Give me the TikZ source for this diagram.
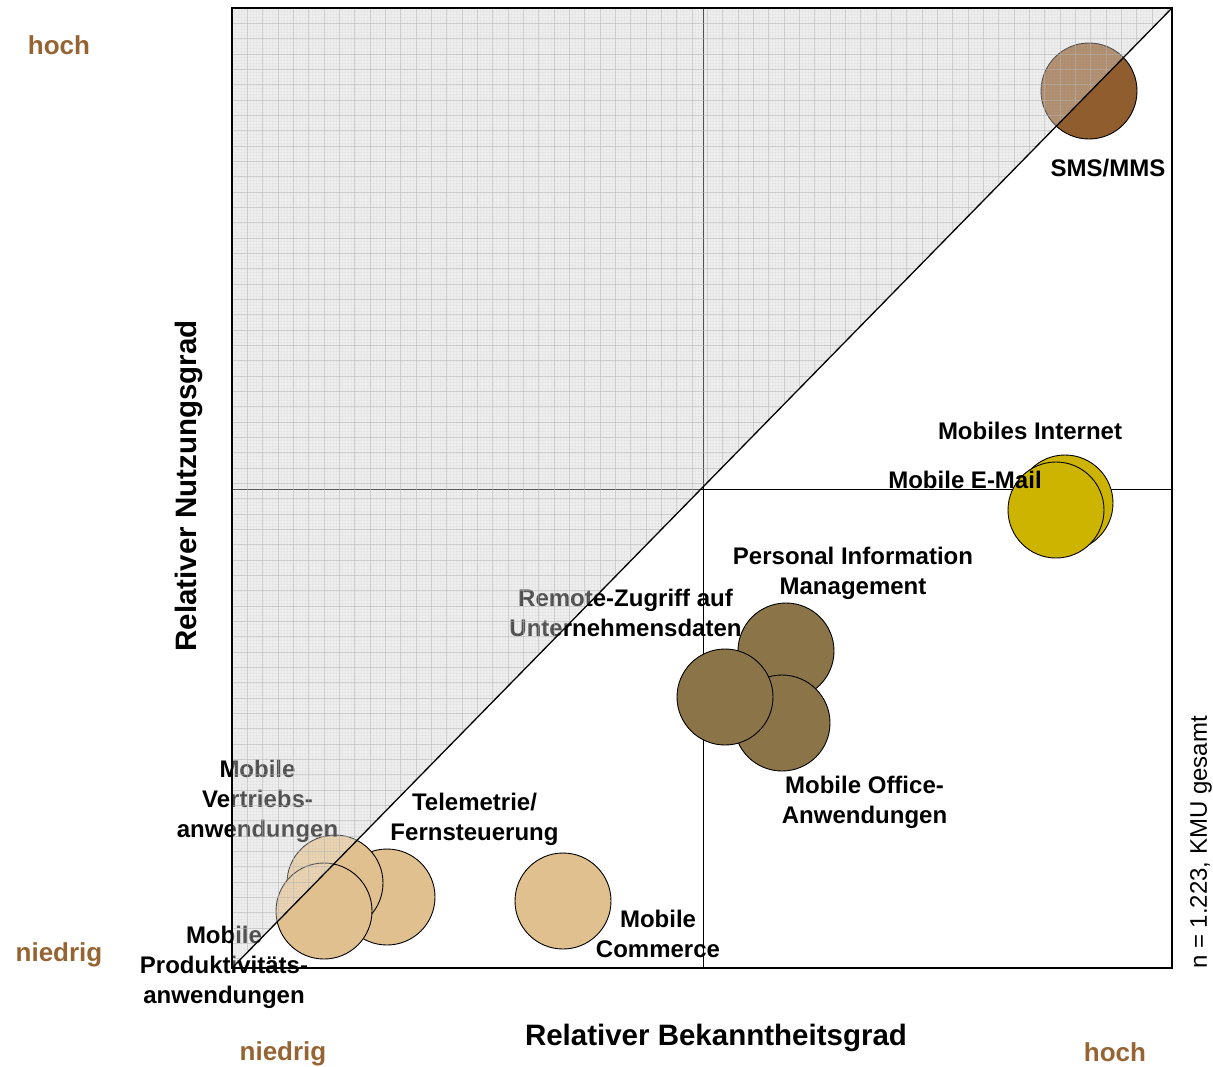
\documentclass[tikz,border=0pt]{standalone}
\usepackage{fontspec}
\setmainfont{Liberation Sans}
\definecolor{smsbrown}{RGB}{143,93,46}
\definecolor{yel}{RGB}{205,180,0}
\definecolor{olive}{RGB}{139,117,72}
\definecolor{tan}{RGB}{224,192,142}
\definecolor{axisbrown}{RGB}{150,100,50}
\definecolor{trifill}{RGB}{232,232,232}
\definecolor{gridc}{RGB}{180,180,180}
\begin{document}
\begin{tikzpicture}[x=1pt,y=-1pt,
  bub/.style={circle, draw=black, line width=0.9pt, minimum size=96pt, inner sep=0pt},
  lab/.style={font=\fontsize{24}{30}\selectfont\bfseries, align=center, inner sep=0pt},
  axtitle/.style={font=\fontsize{29.5}{34}\selectfont\bfseries, inner sep=0pt},
  axend/.style={font=\fontsize{26}{30}\selectfont\bfseries, text=axisbrown, inner sep=0pt},
  frameline/.style={line width=1.3pt, black},
  midline/.style={line width=0.9pt, black}]
\useasboundingbox (0,0) rectangle (1213,1066);
% corner coordinates
\coordinate (TL) at (232,8);
\coordinate (TR) at (1172,8);
\coordinate (BL) at (232,968);
\coordinate (BR) at (1172,968);
\coordinate (MT) at (703,8);
\coordinate (MB) at (703,968);
\coordinate (ML) at (232,489);
\coordinate (MR) at (1172,489);
% gray triangle background
\fill[trifill] (BL) -- (TL) -- (TR) -- cycle;
% midlines
\draw[midline] (MT) -- (MB);
\draw[midline] (ML) -- (MR);
% bubbles
\node[bub, fill=smsbrown] (sms) at (1089,91) {};
\node[bub, fill=yel] (inet) at (1065,503) {};
\node[bub, fill=yel] (email) at (1056,510) {};
\node[bub, fill=olive] (pim) at (786,651) {};
\node[bub, fill=olive] (office) at (782,723) {};
\node[bub, fill=olive] (remote) at (725,697) {};
\node[bub, fill=tan] (tele) at (387,897) {};
\node[bub, fill=tan] (vertrieb) at (335,883) {};
\node[bub, fill=tan] (prod) at (324,911) {};
\node[bub, fill=tan] (commerce) at (563,901) {};
% labels
\node[lab] (lsms) at (1108,168) {SMS/MMS};
\node[lab] (linet) at (1030,431) {Mobiles Internet};
\node[lab] (lemail) at (965,480) {Mobile E-Mail};
\node[lab] (lpim) at (853,573) {Personal Information\\Management};
\node[lab] (lremote) at (625.5,613) {Remote-Zugriff auf\\Unternehmensdaten};
\node[lab] (loffice) at (864.5,802) {Mobile Office-\\Anwendungen};
\node[lab] (lvertrieb) at (257.5,801) {Mobile\\Vertriebs-\\anwendungen};
\node[lab] (ltele) at (474.5,819) {Telemetrie/\\Fernsteuerung};
\node[lab] (lcommerce) at (658,934) {Mobile\\Commerce};
\node[lab] (lprod) at (224,967) {Mobile\\Produktivitäts-\\anwendungen};
% translucent grid overlay on the triangle
\begin{scope}
  \clip (BL) -- (TL) -- (TR) -- cycle;
  \fill[white, opacity=0.3] (BL) -- (TL) -- (TR) -- cycle;
  \foreach \i in {1,...,300} {
    \draw[gridc, line width=0.3pt, opacity=0.1] ({232+\i*3.0667},8) -- ({232+\i*3.0667},968);
    \draw[gridc, line width=0.3pt, opacity=0.1] (232,{8+\i*3.0667}) -- (1172,{8+\i*3.0667});
  }
  \foreach \i in {1,...,62} {
    \draw[gridc, line width=0.7pt, opacity=0.5] ({232+\i*15.333},8) -- ({232+\i*15.333},968);
    \draw[gridc, line width=0.7pt, opacity=0.5] (232,{8+\i*15.333}) -- (1172,{8+\i*15.333});
  }
\end{scope}
% frame and diagonal
\draw[frameline] (TL) rectangle (BR);
\draw[frameline] (BL) -- (TR);
% axis titles
\node[axtitle] (xtitle) at (716,1038) {Relativer Bekanntheitsgrad};
\node[axtitle, rotate=90] (ytitle) at (189,486) {Relativer Nutzungsgrad};
\node[axend] (yhigh) at (59,45) {hoch};
\node[axend] (ylow) at (59,955) {niedrig};
\node[axend] (xlow) at (283,1054) {niedrig};
\node[axend] (xhigh) at (1115,1052) {hoch};
\node[font=\fontsize{24}{28}\selectfont, rotate=90, inner sep=0pt] (nnote) at (1201,842.5) {n = 1.223, KMU gesamt};
\end{tikzpicture}
\end{document}
